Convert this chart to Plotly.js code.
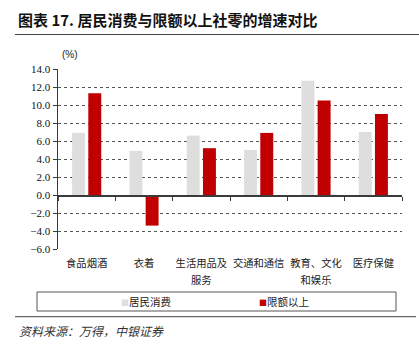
<!DOCTYPE html>
<html>
<head>
<meta charset="utf-8">
<script src="https://cdn.plot.ly/plotly-3.0.1.min.js"></script>
<style>html,body{margin:0;padding:0;background:#fff;}#chart{width:419px;height:354px;}</style>
</head>
<body>
<div id="chart"></div>
<script>
const categories = ['食品烟酒','衣着','生活用品及服务','交通和通信','教育、文化和娱乐','医疗保健'];
const tickLine1 = ['食品烟酒','衣着','生活用品及','交通和通信','教育、文化','医疗保健'];
const tickLine2 = ['','','服务','','和娱乐',''];
const residentConsumption = [6.9, 4.9, 6.6, 5.0, 12.7, 7.0];
const aboveLimitRetail = [11.3, -3.4, 5.2, 6.9, 10.5, 9.0];
const seriesNames = ['居民消费','限额以上'];
const yTicks = [-6,-4,-2,0,2,4,6,8,10,12,14];

const cjk = '"Noto Sans CJK SC", "Noto Sans", sans-serif';
const serif = '"Liberation Serif", "DejaVu Serif", serif';

const W = 419, H = 354;
const M = {l:58, r:17, t:69, b:105};
const pw = W - M.l - M.r, ph = H - M.t - M.b;
const px = x => (x - M.l) / pw;
const py = y => (H - M.b - y) / ph;

const traces = [
  {type:'bar', name:seriesNames[0], x:categories, y:residentConsumption,
   marker:{color:'#DEDEDE', line:{width:0}}, showlegend:false, hoverinfo:'y'},
  {type:'bar', name:seriesNames[1], x:categories, y:aboveLimitRetail,
   marker:{color:'#C00000', line:{width:0}}, showlegend:false, hoverinfo:'y'},
  {type:'scatter', mode:'markers', x:categories, y:categories.map(()=>null),
   xaxis:'x2', showlegend:false, hoverinfo:'skip'},
  {type:'scatter', mode:'markers', x:categories, y:categories.map(()=>null),
   xaxis:'x3', showlegend:false, hoverinfo:'skip'}
];

const lineColor = '#3a3a3a';
const tickFont = {family:cjk, size:10.3, color:'#222'};
const layout = {
  width:W, height:H,
  margin:M,
  paper_bgcolor:'#fff', plot_bgcolor:'#fff',
  barmode:'group', bargap:0.435, bargroupgap:0.2,
  showlegend:false,
  title:{text:'图表 17. 居民消费与限额以上社零的增速对比',
    font:{family:cjk, size:15, color:'#111', weight:'bold'},
    x:18/W, xanchor:'left', xref:'container', y:1-20.5/H, yanchor:'middle', yref:'container'},
  xaxis:{type:'category', range:[-0.5,5.5], showline:false, ticks:'', showgrid:false, zeroline:false,
    tickvals:categories, ticktext:tickLine1, tickfont:tickFont, ticklabelstandoff:7},
  xaxis3:{type:'category', range:[-0.5,5.5], overlaying:'x', anchor:'y', side:'bottom',
    showline:false, ticks:'', showgrid:false, zeroline:false,
    tickvals:categories, ticktext:tickLine2, tickfont:tickFont, ticklabelstandoff:24},
  xaxis2:{type:'category', range:[-0.5,5.5], overlaying:'x', anchor:'free', position:0.3,
    showline:true, linecolor:lineColor, linewidth:1.5, ticks:'outside', ticklen:4, tickcolor:lineColor,
    tickson:'boundaries', showticklabels:false, showgrid:false, zeroline:false},
  yaxis:{range:[-6,14], tickvals:yTicks, tickformat:'.1f', showline:true, linecolor:lineColor, linewidth:1.5,
    ticks:'outside', ticklen:4, tickcolor:lineColor,
    showgrid:true, gridcolor:'#555', griddash:'dot', gridwidth:1, zeroline:false,
    tickfont:{family:serif, size:11, color:'#111'}},
  shapes:[
    {type:'line', xref:'paper', yref:'paper', x0:px(15), x1:px(419), y0:py(34.5), y1:py(34.5), line:{color:'#444', width:1}},
    {type:'line', xref:'paper', yref:'paper', x0:px(15), x1:px(416), y0:py(316.7), y1:py(316.7), line:{color:'#444', width:1}},
    {type:'rect', xref:'paper', yref:'paper', x0:px(37), x1:px(396), y0:py(292), y1:py(311), line:{color:'#555', width:1}, fillcolor:'rgba(0,0,0,0)'}
  ],
  annotations:[
    {text:'(%)', xref:'paper', yref:'paper', x:px(69.5), y:py(54), showarrow:false, xanchor:'center', yanchor:'middle',
     font:{family:'"Liberation Sans", Arial, sans-serif', size:10, color:'#222'}},
    {text:'<span style="color:#DEDEDE;font-size:8px">■</span>' + seriesNames[0], xref:'paper', yref:'paper', x:px(119), y:py(301.5),
     showarrow:false, xanchor:'left', yanchor:'middle', font:{family:cjk, size:10.5, color:'#222'}},
    {text:'<span style="color:#C00000;font-size:8px">■</span>' + seriesNames[1], xref:'paper', yref:'paper', x:px(257), y:py(301.5),
     showarrow:false, xanchor:'left', yanchor:'middle', font:{family:cjk, size:10.5, color:'#222'}},
    {text:'资料来源：万得，中银证券', xref:'paper', yref:'paper', x:px(17), y:py(330), showarrow:false,
     xanchor:'left', yanchor:'middle', font:{family:cjk, size:12, color:'#333', style:'italic'}}
  ]
};

Plotly.newPlot('chart', traces, layout, {displayModeBar:false, staticPlot:true});
</script>
</body>
</html>
